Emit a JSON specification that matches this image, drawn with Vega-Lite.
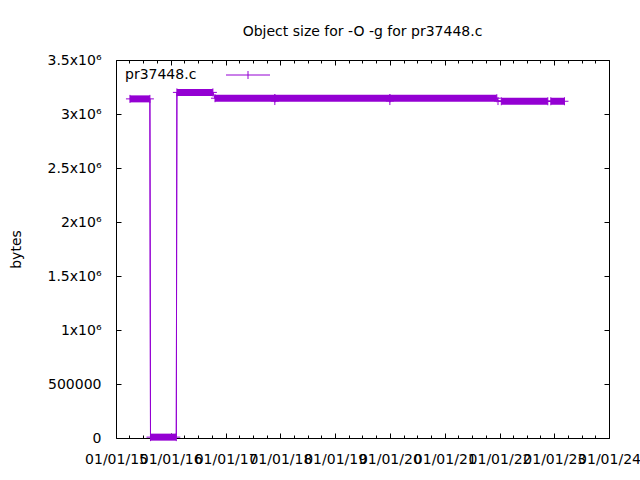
{
  "$schema": "https://vega.github.io/schema/vega-lite/v6.json",
  "width": 493,
  "height": 378,
  "autosize": {"type": "none"},
  "padding": {"left": 116, "top": 60, "right": 31, "bottom": 42},
  "background": "white",
  "title": {"text": "Object size for -O -g for pr37448.c", "anchor": "middle", "fontSize": 14, "fontWeight": "normal", "font": "DejaVu Sans", "color": "black", "offset": 14},
  "config": {
    "view": {"stroke": "black", "strokeWidth": 1},
    "font": "DejaVu Sans",
    "axis": {"domain": false, "grid": false, "tickColor": "black", "tickWidth": 1, "labelColor": "black", "labelFont": "DejaVu Sans", "labelFontSize": 14, "titleFont": "DejaVu Sans", "titleFontSize": 14, "titleFontWeight": "normal", "titleColor": "black"},
    "legend": {"labelFont": "DejaVu Sans", "labelFontSize": 14, "labelColor": "black"}
  },
  "datasets": {
    "segments": [
      {"start": "2015-04-04", "end": "2015-08-15", "bytes": 3140000},
      {"start": "2015-08-19", "end": "2016-02-07", "bytes": 8000},
      {"start": "2016-02-11", "end": "2016-10-08", "bytes": 3200000},
      {"start": "2016-10-22", "end": "2021-12-14", "bytes": 3146000},
      {"start": "2022-01-13", "end": "2022-11-19", "bytes": 3118000},
      {"start": "2022-12-09", "end": "2023-03-10", "bytes": 3118000}
    ],
    "points": [
      {"date": "2015-04-04", "bytes": 3140000, "series": "pr37448.c"},
      {"date": "2015-08-15", "bytes": 3140000, "series": "pr37448.c"},
      {"date": "2015-08-19", "bytes": 8000, "series": "pr37448.c"},
      {"date": "2016-02-07", "bytes": 8000, "series": "pr37448.c"},
      {"date": "2016-02-11", "bytes": 3200000, "series": "pr37448.c"},
      {"date": "2016-10-08", "bytes": 3200000, "series": "pr37448.c"},
      {"date": "2016-10-22", "bytes": 3146000, "series": "pr37448.c"},
      {"date": "2017-11-24", "bytes": 3146000, "series": "pr37448.c"},
      {"date": "2017-11-25", "bytes": 3120000, "series": "pr37448.c"},
      {"date": "2017-11-26", "bytes": 3146000, "series": "pr37448.c"},
      {"date": "2019-12-31", "bytes": 3146000, "series": "pr37448.c"},
      {"date": "2020-01-01", "bytes": 3120000, "series": "pr37448.c"},
      {"date": "2020-01-02", "bytes": 3146000, "series": "pr37448.c"},
      {"date": "2021-12-14", "bytes": 3146000, "series": "pr37448.c"},
      {"date": "2021-12-22", "bytes": 3120000, "series": "pr37448.c"},
      {"date": "2022-01-13", "bytes": 3118000, "series": "pr37448.c"},
      {"date": "2022-11-19", "bytes": 3118000, "series": "pr37448.c"},
      {"date": "2022-12-09", "bytes": 3118000, "series": "pr37448.c"},
      {"date": "2023-03-10", "bytes": 3118000, "series": "pr37448.c"}
    ]
  },
  "resolve": {"axis": {"x": "independent", "y": "independent"}},
  "layer": [
    {
      "data": {"name": "segments"},
      "mark": {"type": "rule", "color": "#9400d3", "strokeWidth": 7, "strokeCap": "butt"},
      "encoding": {
        "x": {"field": "start", "type": "temporal",
          "scale": {"type": "utc", "domain": [{"year": 2015, "month": 1, "date": 1, "utc": true}, {"year": 2024, "month": 1, "date": 1, "utc": true}], "nice": false},
          "axis": {"orient": "bottom", "title": null, "labelExpr": "utcFormat(datum.value, '%m/%d/%y')", "tickSize": -5, "labelPadding": 19, "labelOverlap": false, "labelFlush": false, "labelBound": false,
            "values": [
              {"year": 2015, "month": 1, "date": 1, "utc": true}, {"year": 2016, "month": 1, "date": 1, "utc": true},
              {"year": 2017, "month": 1, "date": 1, "utc": true}, {"year": 2018, "month": 1, "date": 1, "utc": true},
              {"year": 2019, "month": 1, "date": 1, "utc": true}, {"year": 2020, "month": 1, "date": 1, "utc": true},
              {"year": 2021, "month": 1, "date": 1, "utc": true}, {"year": 2022, "month": 1, "date": 1, "utc": true},
              {"year": 2023, "month": 1, "date": 1, "utc": true}, {"year": 2024, "month": 1, "date": 1, "utc": true}
            ]}},
        "x2": {"field": "end"},
        "y": {"field": "bytes", "type": "quantitative",
          "scale": {"domain": [0, 3500000], "nice": false},
          "axis": {"orient": "left", "title": "bytes", "titleX": -100, "titleY": 189, "titleAngle": 270, "titleBaseline": "middle", "titleAlign": "center",
            "tickSize": -5, "labelPadding": 20, "labelOverlap": false, "labelFlush": false, "labelBound": false,
            "values": [0, 500000, 1000000, 1500000, 2000000, 2500000, 3000000, 3500000],
            "labelExpr": "datum.value == 0 ? '0' : datum.value == 500000 ? '500000' : (datum.value / 1000000) + 'x10⁶'"}}
      }
    },
    {
      "data": {"name": "points"},
      "mark": {"type": "line", "color": "#9400d3", "strokeWidth": 1},
      "encoding": {
        "x": {"field": "date", "type": "temporal",
          "axis": {"orient": "top", "title": null, "labels": false, "tickSize": -5,
            "values": [
              {"year": 2015, "month": 1, "date": 1, "utc": true}, {"year": 2016, "month": 1, "date": 1, "utc": true},
              {"year": 2017, "month": 1, "date": 1, "utc": true}, {"year": 2018, "month": 1, "date": 1, "utc": true},
              {"year": 2019, "month": 1, "date": 1, "utc": true}, {"year": 2020, "month": 1, "date": 1, "utc": true},
              {"year": 2021, "month": 1, "date": 1, "utc": true}, {"year": 2022, "month": 1, "date": 1, "utc": true},
              {"year": 2023, "month": 1, "date": 1, "utc": true}, {"year": 2024, "month": 1, "date": 1, "utc": true}
            ]}},
        "y": {"field": "bytes", "type": "quantitative",
          "axis": {"orient": "right", "title": null, "labels": false, "tickSize": -5,
            "values": [0, 500000, 1000000, 1500000, 2000000, 2500000, 3000000, 3500000]}}
      }
    },
    {
      "data": {"name": "points"},
      "mark": {"type": "point", "shape": "M-1,0H1M0,-1V1", "filled": false, "size": 64, "strokeWidth": 1, "opacity": 1},
      "encoding": {
        "x": {"field": "date", "type": "temporal",
          "axis": {"orient": "bottom", "title": null, "labels": false, "tickSize": -3,
            "values": [
              {"year": 2015, "month": 4, "date": 1, "utc": true}, {"year": 2015, "month": 7, "date": 2, "utc": true}, {"year": 2015, "month": 10, "date": 1, "utc": true},
              {"year": 2016, "month": 4, "date": 1, "utc": true}, {"year": 2016, "month": 7, "date": 2, "utc": true}, {"year": 2016, "month": 10, "date": 1, "utc": true},
              {"year": 2017, "month": 4, "date": 1, "utc": true}, {"year": 2017, "month": 7, "date": 2, "utc": true}, {"year": 2017, "month": 10, "date": 1, "utc": true},
              {"year": 2018, "month": 4, "date": 1, "utc": true}, {"year": 2018, "month": 7, "date": 2, "utc": true}, {"year": 2018, "month": 10, "date": 1, "utc": true},
              {"year": 2019, "month": 4, "date": 1, "utc": true}, {"year": 2019, "month": 7, "date": 2, "utc": true}, {"year": 2019, "month": 10, "date": 1, "utc": true},
              {"year": 2020, "month": 4, "date": 1, "utc": true}, {"year": 2020, "month": 7, "date": 2, "utc": true}, {"year": 2020, "month": 10, "date": 1, "utc": true},
              {"year": 2021, "month": 4, "date": 1, "utc": true}, {"year": 2021, "month": 7, "date": 2, "utc": true}, {"year": 2021, "month": 10, "date": 1, "utc": true},
              {"year": 2022, "month": 4, "date": 1, "utc": true}, {"year": 2022, "month": 7, "date": 2, "utc": true}, {"year": 2022, "month": 10, "date": 1, "utc": true},
              {"year": 2023, "month": 4, "date": 1, "utc": true}, {"year": 2023, "month": 7, "date": 2, "utc": true}, {"year": 2023, "month": 10, "date": 1, "utc": true}
            ]}},
        "y": {"field": "bytes", "type": "quantitative", "axis": null},
        "color": {"field": "series", "type": "nominal", "scale": {"range": ["#9400d3"]},
          "legend": {"title": null, "orient": "none", "legendX": -9, "legendY": 8, "padding": 0, "symbolSize": 4, "symbolType": "M112,0H156M134,-4V4", "symbolStrokeWidth": 1, "symbolFillColor": "transparent", "labelOffset": 4}}
      }
    },
    {
      "data": {"name": "points"},
      "mark": {"type": "line", "color": "#9400d3", "strokeWidth": 1},
      "encoding": {
        "x": {"field": "date", "type": "temporal",
          "axis": {"orient": "top", "title": null, "labels": false, "tickSize": -3,
            "values": [
              {"year": 2015, "month": 4, "date": 1, "utc": true}, {"year": 2015, "month": 7, "date": 2, "utc": true}, {"year": 2015, "month": 10, "date": 1, "utc": true},
              {"year": 2016, "month": 4, "date": 1, "utc": true}, {"year": 2016, "month": 7, "date": 2, "utc": true}, {"year": 2016, "month": 10, "date": 1, "utc": true},
              {"year": 2017, "month": 4, "date": 1, "utc": true}, {"year": 2017, "month": 7, "date": 2, "utc": true}, {"year": 2017, "month": 10, "date": 1, "utc": true},
              {"year": 2018, "month": 4, "date": 1, "utc": true}, {"year": 2018, "month": 7, "date": 2, "utc": true}, {"year": 2018, "month": 10, "date": 1, "utc": true},
              {"year": 2019, "month": 4, "date": 1, "utc": true}, {"year": 2019, "month": 7, "date": 2, "utc": true}, {"year": 2019, "month": 10, "date": 1, "utc": true},
              {"year": 2020, "month": 4, "date": 1, "utc": true}, {"year": 2020, "month": 7, "date": 2, "utc": true}, {"year": 2020, "month": 10, "date": 1, "utc": true},
              {"year": 2021, "month": 4, "date": 1, "utc": true}, {"year": 2021, "month": 7, "date": 2, "utc": true}, {"year": 2021, "month": 10, "date": 1, "utc": true},
              {"year": 2022, "month": 4, "date": 1, "utc": true}, {"year": 2022, "month": 7, "date": 2, "utc": true}, {"year": 2022, "month": 10, "date": 1, "utc": true},
              {"year": 2023, "month": 4, "date": 1, "utc": true}, {"year": 2023, "month": 7, "date": 2, "utc": true}, {"year": 2023, "month": 10, "date": 1, "utc": true}
            ]}},
        "y": {"field": "bytes", "type": "quantitative", "axis": null}
      }
    }
  ]
}
